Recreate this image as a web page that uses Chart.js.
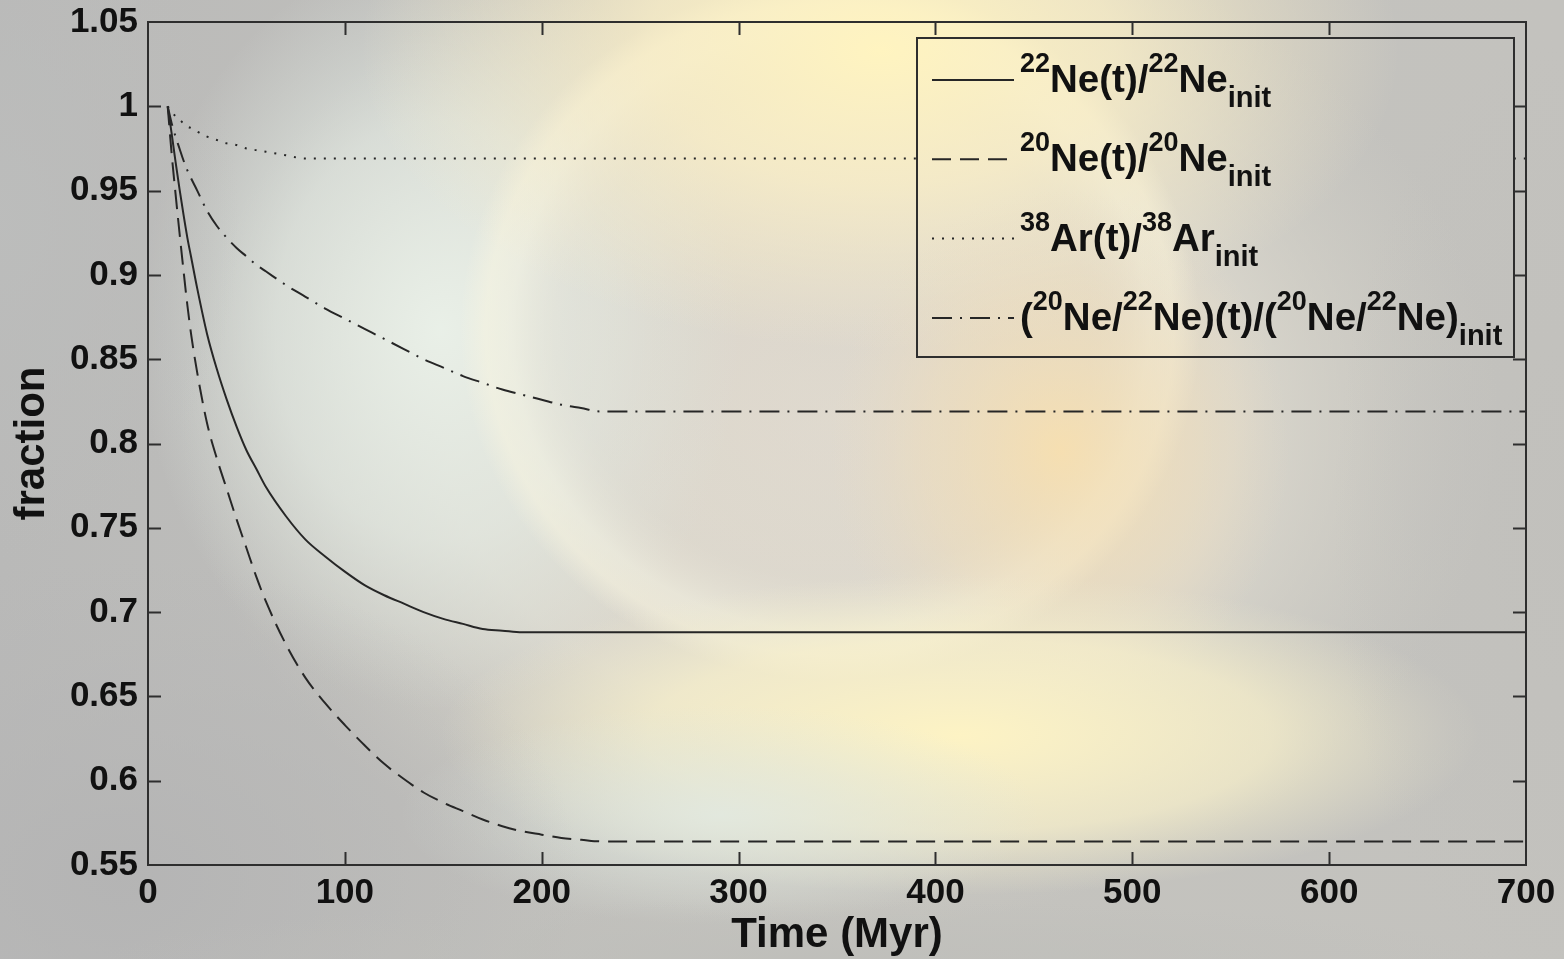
<!DOCTYPE html>
<html><head><meta charset="utf-8">
<script src="https://cdn.jsdelivr.net/npm/chart.js@4/dist/chart.umd.min.js"></script>
<style>html,body{margin:0;padding:0;background:#b9b9b8;overflow:hidden}#wrap{width:1564px;height:959px;position:relative}canvas{display:block}</style>
</head><body><div id="wrap"><canvas id="c" width="1564" height="959"></canvas></div>
<script>
// ---- data ----
const time  = [10,12,14,16,18,20,22,25,30,35,40,45,50,55,60,70,80,90,100,110,120,130,140,150,160,170,180,190,200,210,220,230,240,300,400,500,600,700];
const ne22  = [1.000,0.984,0.967,0.951,0.936,0.922,0.910,0.892,0.865,0.844,0.826,0.810,0.796,0.785,0.774,0.757,0.743,0.733,0.724,0.716,0.710,0.705,0.700,0.696,0.693,0.690,0.689,0.688,0.688,0.688,0.688,0.688,0.688,0.688,0.688,0.688,0.688,0.688];
const ne20  = [1.000,0.972,0.948,0.925,0.903,0.882,0.864,0.842,0.812,0.791,0.773,0.755,0.738,0.721,0.706,0.681,0.661,0.646,0.633,0.621,0.610,0.601,0.593,0.587,0.582,0.577,0.573,0.570,0.568,0.566,0.565,0.564,0.564,0.564,0.564,0.564,0.564,0.564];
const ar38  = [1.000,0.997,0.994,0.992,0.990,0.988,0.987,0.985,0.982,0.980,0.978,0.977,0.975,0.974,0.973,0.971,0.969,0.969,0.969,0.969,0.969,0.969,0.969,0.969,0.969,0.969,0.969,0.969,0.969,0.969,0.969,0.969,0.969,0.969,0.969,0.969,0.969,0.969];
const ratio = [1.000,0.990,0.982,0.975,0.968,0.962,0.957,0.950,0.938,0.929,0.922,0.916,0.911,0.906,0.902,0.894,0.887,0.880,0.874,0.868,0.862,0.856,0.850,0.845,0.840,0.836,0.832,0.829,0.826,0.823,0.821,0.819,0.819,0.819,0.819,0.819,0.819,0.819];
const xTicks = [0,100,200,300,400,500,600,700];
const yTicks = [0.55,0.6,0.65,0.7,0.75,0.8,0.85,0.9,0.95,1,1.05];
const seriesLabels = [
  "^{22}Ne(t)/^{22}Ne_{init}",
  "^{20}Ne(t)/^{20}Ne_{init}",
  "^{38}Ar(t)/^{38}Ar_{init}",
  "(^{20}Ne/^{22}Ne)(t)/(^{20}Ne/^{22}Ne)_{init}"
];
const xTitle = "Time (Myr)";
const yTitle = "fraction";

// ---- background painting (blurred slide backdrop) ----
function glow(ctx, cx, cy, rx, ry, stops){
  ctx.save();
  ctx.translate(cx, cy);
  ctx.scale(1, ry/rx);
  const g = ctx.createRadialGradient(0,0,0,0,0,rx);
  stops.forEach(s=>g.addColorStop(s[0], s[1]));
  ctx.fillStyle = g;
  ctx.beginPath(); ctx.arc(0,0,rx,0,Math.PI*2); ctx.fill();
  ctx.restore();
}
function paintBg(ctx, W, H){
  const lg = ctx.createLinearGradient(0,0,W,0);
  lg.addColorStop(0,'#b9b9b8'); lg.addColorStop(0.5,'#c4c3be'); lg.addColorStop(1,'#c3c2be');
  ctx.fillStyle = lg; ctx.fillRect(0,0,W,H);
  glow(ctx, 840, 420, 660, 510, [[0,'rgba(228,222,210,0.95)'],[0.6,'rgba(224,220,208,0.8)'],[1,'rgba(212,210,200,0)']]);
  glow(ctx, 440, 330, 300, 380, [[0,'rgba(234,241,233,0.95)'],[0.55,'rgba(228,235,228,0.65)'],[1,'rgba(222,230,224,0)']]);
  glow(ctx, 830, 330, 370, 350, [[0,'rgba(216,209,200,0.35)'],[0.7,'rgba(218,212,202,0.25)'],[0.86,'rgba(242,240,224,0.55)'],[0.93,'rgba(249,245,224,0.5)'],[1,'rgba(249,245,224,0)']]);
  glow(ctx, 880, 50, 520, 300, [[0,'rgba(255,244,192,1)'],[0.45,'rgba(252,240,198,0.75)'],[1,'rgba(250,238,202,0)']]);
  glow(ctx, 1060, 450, 230, 260, [[0,'rgba(250,224,172,0.85)'],[0.6,'rgba(242,222,184,0.45)'],[1,'rgba(235,220,192,0)']]);
  glow(ctx, 960, 735, 520, 160, [[0,'rgba(253,243,196,1)'],[0.6,'rgba(248,240,202,0.7)'],[1,'rgba(240,235,205,0)']]);
  glow(ctx, 720, 815, 320, 110, [[0,'rgba(226,233,224,0.9)'],[1,'rgba(222,230,222,0)']]);
  glow(ctx, 120, 880, 460, 320, [[0,'rgba(180,180,180,0.95)'],[1,'rgba(182,182,182,0)']]);
  glow(ctx, 1564, 520, 230, 480, [[0,'rgba(193,192,188,0.8)'],[1,'rgba(193,192,188,0)']]);
  glow(ctx, 0, 220, 240, 340, [[0,'rgba(188,189,188,0.9)'],[1,'rgba(188,189,188,0)']]);
  glow(ctx, 800, 959, 700, 60, [[0,'rgba(190,190,186,0.8)'],[1,'rgba(190,190,186,0)']]);
}

const bgPlugin = {
  id:'bg',
  beforeDraw(chart){ paintBg(chart.ctx, chart.width, chart.height); }
};

const INK = '#262626';

const framePlugin = {
  id:'frame',
  afterDatasetsDraw(chart){
    const ctx = chart.ctx, a = chart.chartArea;
    const xs = chart.scales.x, ys = chart.scales.y;
    const L = 13;
    ctx.save();
    ctx.strokeStyle = '#2e2e2e'; ctx.lineWidth = 2;
    ctx.beginPath();
    xTicks.forEach(v=>{
      const px = Math.round(xs.getPixelForValue(v))+0.5;
      if (v===xTicks[0]||v===xTicks[xTicks.length-1]) return;
      ctx.moveTo(px, a.bottom); ctx.lineTo(px, a.bottom-L);
      ctx.moveTo(px, a.top); ctx.lineTo(px, a.top+L);
    });
    yTicks.forEach(v=>{
      const py = Math.round(ys.getPixelForValue(v))+0.5;
      if (v===yTicks[0]||v===yTicks[yTicks.length-1]) return;
      ctx.moveTo(a.left, py); ctx.lineTo(a.left+L, py);
      ctx.moveTo(a.right, py); ctx.lineTo(a.right-L, py);
    });
    ctx.stroke();
    ctx.strokeRect(a.left, a.top, a.right-a.left, a.bottom-a.top);
    ctx.restore();
  }
};

function parseLabel(s){
  const parts = []; let i=0;
  while(i<s.length){
    if((s[i]==='^'||s[i]==='_') && s[i+1]==='{'){
      const j = s.indexOf('}', i);
      parts.push([s[i]==='^'?'sup':'sub', s.slice(i+2,j)]); i=j+1;
    } else {
      let j=i; while(j<s.length && !((s[j]==='^'||s[j]==='_') && s[j+1]==='{')) j++;
      parts.push(['n', s.slice(i,j)]); i=j;
    }
  }
  return parts;
}

const legendPlugin = {
  id:'mylegend',
  afterDraw(chart){
    const ctx = chart.ctx, a = chart.chartArea;
    const bx = a.right-609, by = a.top+16, bw = 597, bh = 319;
    ctx.save();
    ctx.beginPath(); ctx.rect(bx, by, bw, bh); ctx.clip();
    paintBg(ctx, chart.width, chart.height);
    ctx.restore();
    ctx.save();
    ctx.strokeStyle = '#2e2e2e'; ctx.lineWidth = 2;
    ctx.strokeRect(bx, by, bw, bh);
    const fam = '"Liberation Sans", Arial, sans-serif';
    chart.data.datasets.forEach((ds, k)=>{
      const base = by + 54 + k*79.3;
      const ly = base - 12;
      ctx.save();
      ctx.strokeStyle = ds.borderColor; ctx.lineWidth = ds.borderWidth;
      ctx.setLineDash(ds.borderDash||[]);
      ctx.beginPath(); ctx.moveTo(bx+15, ly); ctx.lineTo(bx+97, ly); ctx.stroke();
      ctx.restore();
      let x = bx + 103;
      ctx.fillStyle = '#111'; ctx.textBaseline = 'alphabetic'; ctx.textAlign='left';
      parseLabel(seriesLabels[k]).forEach(([t, txt])=>{
        let size = 38.5, y = base;
        if (t==='sup'){ size = 27; y = base - 20; }
        if (t==='sub'){ size = 29; y = base + 15; }
        ctx.font = `bold ${size}px ${fam}`;
        ctx.fillText(txt, x, y);
        x += ctx.measureText(txt).width;
      });
    });
    ctx.restore();
  }
};

const pts = arr => time.map((t,i)=>({x:t, y:arr[i]}));
const lineBase = {borderColor:INK, borderWidth:2, pointRadius:0, fill:false, cubicInterpolationMode:'monotone'};
const FAM = '"Liberation Sans", Arial, sans-serif';

new Chart(document.getElementById('c'), {
  type:'line',
  data:{datasets:[
    Object.assign({label:seriesLabels[0], data:pts(ne22), borderDash:[]}, lineBase),
    Object.assign({label:seriesLabels[1], data:pts(ne20), borderDash:[19,9]}, lineBase),
    Object.assign({label:seriesLabels[2], data:pts(ar38), borderDash:[2,8]}, lineBase),
    Object.assign({label:seriesLabels[3], data:pts(ratio), borderDash:[20,8,2,8]}, lineBase)
  ]},
  options:{
    responsive:false, animation:false, events:[],
    layout:{padding:{top:22, right:38, left:0, bottom:0}},
    plugins:{legend:{display:false}, tooltip:{enabled:false}},
    scales:{
      x:{type:'linear', min:0, max:700,
        afterBuildTicks:s=>{s.ticks = xTicks.map(v=>({value:v}));},
        afterFit:s=>{s.height = 94; s.paddingLeft = 0; s.paddingRight = 0;},
        grid:{display:false, drawTicks:false}, border:{display:false},
        ticks:{padding:7, color:'#111', font:{family:FAM, size:35, weight:'bold'}, maxRotation:0, autoSkip:false, callback:v=>String(v)},
        title:{display:true, text:xTitle, color:'#111', padding:{top:0,bottom:0}, font:{family:FAM, size:42, weight:'bold', lineHeight:1.1}}
      },
      y:{min:0.55, max:1.05,
        afterBuildTicks:s=>{s.ticks = yTicks.map(v=>({value:v}));},
        afterFit:s=>{s.width = 148; s.paddingTop = 0; s.paddingBottom = 0;},
        grid:{display:false, drawTicks:false}, border:{display:false},
        ticks:{padding:10, color:'#111', font:{family:FAM, size:35, weight:'bold'}, autoSkip:false, callback:v=>String(+(+v).toFixed(2))},
        title:{display:true, text:yTitle, color:'#111', padding:{top:7,bottom:0}, font:{family:FAM, size:42, weight:'bold', lineHeight:1.2}}
      }
    }
  },
  plugins:[bgPlugin, framePlugin, legendPlugin]
});
</script>
</body></html>
